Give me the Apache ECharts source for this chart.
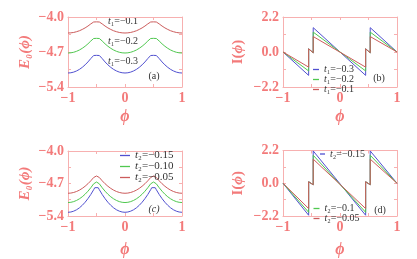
<!DOCTYPE html>
<html><head><meta charset="utf-8">
<script src="https://cdn.jsdelivr.net/npm/echarts@6.0.0/dist/echarts.min.js"></script>
<style>html,body{margin:0;padding:0;background:#fff}#c{width:417px;height:259px}</style>
</head><body><div id="c"></div>
<script>
// ---- data ----
const phiE = [-1,-0.95,-0.9,-0.85,-0.8,-0.75,-0.7,-0.65,-0.6,-0.55,-0.53,-0.5,-0.47,-0.45,-0.4,-0.35,-0.3,-0.25,-0.2,-0.15,-0.1,-0.05,0,0.05,0.1,0.15,0.2,0.25,0.3,0.35,0.4,0.45,0.47,0.5,0.53,0.55,0.6,0.65,0.7,0.75,0.8,0.85,0.9,0.95,1];
// panel (a): E0 for t1
const eA_t1_01 = [-4.320,-4.317,-4.309,-4.294,-4.275,-4.249,-4.218,-4.181,-4.138,-4.100,-4.100,-4.097,-4.100,-4.100,-4.138,-4.181,-4.218,-4.249,-4.275,-4.294,-4.309,-4.317,-4.320,-4.317,-4.309,-4.294,-4.275,-4.249,-4.218,-4.181,-4.138,-4.100,-4.100,-4.097,-4.100,-4.100,-4.138,-4.181,-4.218,-4.249,-4.275,-4.294,-4.309,-4.317,-4.320];
const eA_t1_02 = [-4.720,-4.716,-4.705,-4.686,-4.660,-4.626,-4.585,-4.537,-4.480,-4.430,-4.430,-4.427,-4.430,-4.430,-4.480,-4.537,-4.585,-4.626,-4.660,-4.686,-4.705,-4.716,-4.720,-4.716,-4.705,-4.686,-4.660,-4.626,-4.585,-4.537,-4.480,-4.430,-4.430,-4.427,-4.430,-4.430,-4.480,-4.537,-4.585,-4.626,-4.660,-4.686,-4.705,-4.716,-4.720];
const eA_t1_03 = [-5.120,-5.115,-5.102,-5.079,-5.048,-5.007,-4.957,-4.899,-4.831,-4.770,-4.770,-4.767,-4.770,-4.770,-4.831,-4.899,-4.957,-5.007,-5.048,-5.079,-5.102,-5.115,-5.120,-5.115,-5.102,-5.079,-5.048,-5.007,-4.957,-4.899,-4.831,-4.770,-4.770,-4.767,-4.770,-4.770,-4.831,-4.899,-4.957,-5.007,-5.048,-5.079,-5.102,-5.115,-5.120];
// panel (c): E0 for t2
const eC_t2_005 = [-4.910,-4.906,-4.893,-4.872,-4.843,-4.805,-4.759,-4.705,-4.642,-4.571,-4.540,-4.538,-4.540,-4.571,-4.642,-4.705,-4.759,-4.805,-4.843,-4.872,-4.893,-4.906,-4.910,-4.906,-4.893,-4.872,-4.843,-4.805,-4.759,-4.705,-4.642,-4.571,-4.540,-4.538,-4.540,-4.571,-4.642,-4.705,-4.759,-4.805,-4.843,-4.872,-4.893,-4.906,-4.910];
const eC_t2_010 = [-5.110,-5.105,-5.090,-5.065,-5.030,-4.986,-4.931,-4.866,-4.791,-4.707,-4.670,-4.668,-4.670,-4.707,-4.791,-4.866,-4.931,-4.986,-5.030,-5.065,-5.090,-5.105,-5.110,-5.105,-5.090,-5.065,-5.030,-4.986,-4.931,-4.866,-4.791,-4.707,-4.670,-4.668,-4.670,-4.707,-4.791,-4.866,-4.931,-4.986,-5.030,-5.065,-5.090,-5.105,-5.110];
const eC_t2_015 = [-5.320,-5.314,-5.296,-5.266,-5.224,-5.170,-5.104,-5.026,-4.936,-4.834,-4.790,-4.788,-4.790,-4.834,-4.936,-5.026,-5.104,-5.170,-5.224,-5.266,-5.296,-5.314,-5.320,-5.314,-5.296,-5.266,-5.224,-5.170,-5.104,-5.026,-4.936,-4.834,-4.790,-4.788,-4.790,-4.834,-4.936,-5.026,-5.104,-5.170,-5.224,-5.266,-5.296,-5.314,-5.320];
// panels (b),(d): current
const phiI = [-1,-0.55,-0.55,-0.47,-0.47,0.45,0.45,0.53,0.53,1];
const iB_t1_03 = [0,-1.47,0.2,-0.05,1.53,-1.47,0.2,-0.05,1.53,0];
const iB_t1_02 = [0,-1.19,0.2,-0.05,1.25,-1.19,0.2,-0.05,1.25,0];
const iB_t1_01 = [0,-0.95,0.2,-0.05,0.97,-0.95,0.2,-0.05,0.97,0];
const iD_t2_015 = [0,-2.15,0.1,-0.1,2.17,-2.15,0.1,-0.1,2.17,0];
const iD_t2_010 = [0,-1.95,0.1,-0.1,1.88,-1.95,0.1,-0.1,1.88,0];
const iD_t2_005 = [0,-1.70,0.1,-0.1,1.62,-1.70,0.1,-0.1,1.62,0];
// ticks
const xTicks = [-1,0,1];
const xTickMarks = [-1,-0.5,0,0.5,1];
const eTicks = [-5.4,-4.7,-4.0];
const eTickMarks = [-5.4,-5.05,-4.7,-4.35,-4.0];
const iTicks = [-2.2,0.0,2.2];
const iTickMarks = [-2.2,-1.1,0,1.1,2.2];

// ---- styles ----
const LBL = '#f37a7a', FRAME = '#f7b0b0', TXT = '#333';
const SERIF = "'Liberation Serif','DejaVu Serif',serif";
const BLUE = '#5050d0', GREEN = '#50c850', RED = '#cc5c5c';
const PHI = '\u03d5';
const minus = s => s.replace('-', '\u2212');
const f1 = v => minus(v.toFixed(1));
const f0 = v => minus(String(v));

const grids = [
  {left:68, top:17, width:114, height:70},
  {left:283, top:17, width:114, height:70},
  {left:68, top:151, width:114, height:68},
  {left:283, top:150.5, width:114, height:68}
];
const xAxes = [], yAxes = [];
grids.forEach((g, gi) => {
  const isE = (gi === 0 || gi === 2);
  const yMin = isE ? -5.4 : -2.2, yMax = isE ? -4.0 : 2.2;
  const yLab = isE ? eTicks : iTicks, yMarks = isE ? eTickMarks : iTickMarks;
  const base = {gridIndex: gi, type:'value', min:-1, max:1, splitLine:{show:false},
    axisLine:{show:true, onZero:false, lineStyle:{color:FRAME, width:1}},
    axisTick:{show:true, inside:true, length:3, customValues:xTickMarks, lineStyle:{color:FRAME}}};
  xAxes.push(Object.assign({}, base, {position:'bottom',
    axisLabel:{customValues:xTicks, formatter:f0, color:LBL, fontFamily:SERIF, fontWeight:'bold', fontSize:14, margin:4},
    name:PHI, nameLocation:'middle', nameGap: gi < 2 ? 22 : 26,
    nameTextStyle:{color:LBL, fontFamily:SERIF, fontStyle:'italic', fontWeight:'bold', fontSize:16}}));
  xAxes.push(Object.assign({}, base, {position:'top', axisLabel:{show:false}}));
  const ybase = {gridIndex: gi, type:'value', min:yMin, max:yMax, splitLine:{show:false},
    axisLine:{show:true, onZero:false, lineStyle:{color:FRAME, width:1}},
    axisTick:{show:true, inside:true, length:3, customValues:yMarks, lineStyle:{color:FRAME}}};
  yAxes.push(Object.assign({}, ybase, {position:'left',
    axisLabel:{customValues:yLab, formatter:f1, color:LBL, fontFamily:SERIF, fontWeight:'bold', fontSize:14, margin:4},
    name: isE ? '{a|E₀(' + PHI + ')}' : '{u|I(}{a|' + PHI + '}{u|)}', nameLocation:'middle', nameRotate:90, nameGap: isE ? 35 : 37,
    nameTextStyle:{color:LBL, fontFamily:SERIF, fontWeight:'bold', fontSize:15,
      rich:{a:{color:LBL, fontFamily:SERIF, fontStyle:'italic', fontWeight:'bold', fontSize:15},
            u:{color:LBL, fontFamily:SERIF, fontWeight:'bold', fontSize:15}}}}));
  yAxes.push(Object.assign({}, ybase, {position:'right', axisLabel:{show:false}}));
});

function mk(name, gi, xs, ys, color) {
  return {type:'line', name, xAxisIndex: gi*2, yAxisIndex: gi*2, data: xs.map((x,i)=>[x, ys[i]]),
    showSymbol:false, symbol:'none', color, itemStyle:{color}, lineStyle:{color, width:1}, animation:false, silent:true};
}
const series = [
  mk('a1', 0, phiE, eA_t1_01, RED), mk('a2', 0, phiE, eA_t1_02, GREEN), mk('a3', 0, phiE, eA_t1_03, BLUE),
  mk('t₁=−0.3', 1, phiI, iB_t1_03, BLUE), mk('t₁=−0.2', 1, phiI, iB_t1_02, GREEN), mk('t₁=−0.1', 1, phiI, iB_t1_01, RED),
  mk('t₂=−0.15', 2, phiE, eC_t2_015, BLUE), mk('t₂=−0.10', 2, phiE, eC_t2_010, GREEN), mk('t₂=−0.05', 2, phiE, eC_t2_005, RED),
  mk('t₂=−0.15 ', 3, phiI, iD_t2_015, BLUE), mk('t₂=−0.1', 3, phiI, iD_t2_010, GREEN), mk('t₂=−0.05 ', 3, phiI, iD_t2_005, RED)
];
const colorOf = {};
series.forEach(s => colorOf[s.name] = s.color);

function leg(names, left, top, iw, fs, lh) {
  return {data: names.map(n => ({name:n, icon:'rect', itemStyle:{color:colorOf[n], borderWidth:0}})),
    orient:'vertical', left, top, padding:0, itemGap:0, itemWidth:iw, itemHeight:1.3,
    itemTextGap:2, selectedMode:false,
    formatter: n => '{i|t}{n|' + n.trim().slice(1) + '}',
    textStyle:{color:TXT, fontFamily:SERIF, fontSize:fs, lineHeight:lh,
      rich:{i:{fontStyle:'italic', fontFamily:SERIF, fontSize:fs, lineHeight:lh, color:TXT},
            n:{fontFamily:SERIF, fontSize:fs, lineHeight:lh, color:TXT}}}};
}
const legends = [
  leg(['t₁=−0.3','t₁=−0.2','t₁=−0.1'], 313, 64.5, 6, 10, 6),
  leg(['t₂=−0.15','t₂=−0.10','t₂=−0.05'], 120, 150, 10, 11, 10),
  leg(['t₂=−0.15 '], 320, 149, 5, 10, 10),
  leg(['t₂=−0.1','t₂=−0.05 '], 313.5, 203.5, 6, 10, 6)
];

function txt(x, y, s, italic, size) {
  return {type:'text', x, y, style:{text:s, fill:TXT, font:(italic?'italic ':'') + (size||10) + 'px ' + SERIF, align:'center', verticalAlign:'middle'}, silent:true};
}
function tlab(x, y, val) {
  return {type:'text', x, y, silent:true, style:{
    text:'{i|t}{n|₁=−' + val + '}', align:'center', verticalAlign:'middle',
    rich:{i:{fontStyle:'italic', fontFamily:SERIF, fontSize:10, fill:TXT, color:TXT}, n:{fontFamily:SERIF, fontSize:10, fill:TXT, color:TXT}}}};
}

const chart = echarts.init(document.getElementById('c'), null, {renderer:'canvas'});
chart.setOption({
  animation:false,
  backgroundColor:'#fff',
  grid: grids, xAxis: xAxes, yAxis: yAxes, series, legend: legends,
  graphic: [
    tlab(123, 21, '0.1'), tlab(123, 41, '0.2'), tlab(123, 61, '0.3'),
    txt(154, 76, '(a)'), txt(379, 78, '(b)'), txt(154, 209, '(c)', true), txt(380, 210, '(d)')
  ]
});
</script></body></html>
